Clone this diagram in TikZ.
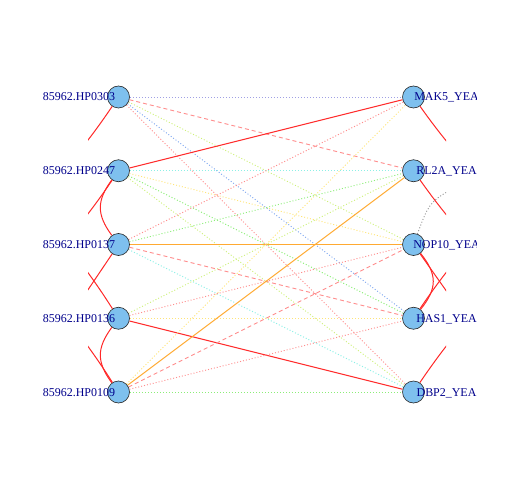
\documentclass[tikz,border=0pt]{standalone}
\usepackage{fontspec}
\setmainfont{Liberation Serif}
\usepackage{tikz}
\usetikzlibrary{positioning}
\definecolor{vfill}{RGB}{126,192,238}
\definecolor{labblue}{RGB}{0,0,139}
\definecolor{lav}{RGB}{160,160,228}
\definecolor{pinkish}{RGB}{255,140,140}
\definecolor{ygreen}{RGB}{205,240,120}
\definecolor{lblue}{RGB}{130,170,240}
\definecolor{lcyan}{RGB}{140,240,230}
\definecolor{lgreen}{RGB}{140,238,120}
\definecolor{lyell}{RGB}{255,228,120}
\definecolor{ered}{RGB}{255,40,40}
\definecolor{eorange}{RGB}{255,170,50}
\definecolor{egrey}{RGB}{150,150,150}

\tikzset{
  dotline/.style={line width=0.9bp,dash pattern=on 1bp off 2bp},
  dashline/.style={line width=0.9bp,dash pattern=on 4bp off 3bp},
  lavdot/.style={dotline,lav},
  pinkdot/.style={dotline,pinkish},
  pinkdash/.style={dashline,pinkish},
  ygdot/.style={dotline,ygreen},
  bluedot/.style={dotline,lblue},
  cyandot/.style={dotline,lcyan},
  greendot/.style={dotline,lgreen},
  yelldot/.style={dotline,lyell},
  greydot/.style={dotline,egrey},
  redsolid/.style={line width=1bp,ered},
  orngsolid/.style={line width=1bp,eorange},
  vtx/.style={circle,draw=black!85,fill=vfill,line width=0.6bp,minimum size=22bp,inner sep=0pt},
  lab/.style={text=labblue,font=\fontsize{12}{14}\selectfont,inner sep=0pt,text height=8bp,text depth=0bp}
}

\begin{document}
\begin{tikzpicture}[x=1bp,y=-1bp]
  \useasboundingbox (0,0) rectangle (504,504);

  % vertices (drawn later on top, placed first for the names)
  \foreach \i/\y in {1/97,2/170.75,3/244.5,4/318.25,5/392} {
    \coordinate (pl\i) at (118.5,\y);
    \coordinate (pr\i) at (413.5,\y);
  }
  \foreach \i in {1,...,5} {
    \node[vtx,draw=none,fill=none] (l\i) at (pl\i) {};
    \node[vtx,draw=none,fill=none] (r\i) at (pr\i) {};
  }

  % straight edges left -> right
  \foreach \s/\t/\sty in {1/1/lavdot,1/2/pinkdash,1/3/ygdot,1/4/bluedot,1/5/pinkdot,
                          2/1/redsolid,2/2/cyandot,2/3/yelldot,2/4/greendot,2/5/ygdot,
                          3/1/pinkdot,3/2/greendot,3/3/orngsolid,3/4/pinkdash,3/5/cyandot,
                          4/2/ygdot,4/3/pinkdot,4/4/yelldot,4/5/redsolid,
                          5/1/yelldot,5/2/orngsolid,5/3/pinkdash,5/4/pinkdot,5/5/greendot}
    \draw[\sty] (l\s) -- (r\t);

  % curved edges, cut off at the plot region
  \begin{scope}
    \clip (88,0) rectangle (446,504);
    \coordinate (cl3) at (-60,420);
    \coordinate (cr3) at (592,420);
    \coordinate (gq) at (470,180);
    \draw[redsolid] (l1) .. controls +(-124,184) and +(-122,-192) .. (l4);
    \draw[redsolid] (l2) .. controls +(-124,184) and +(-122,-192) .. (l5);
    \draw[redsolid] (l3) .. controls +(-124,184) .. (cl3);
    \draw[redsolid] (l2) .. controls +(-22,30) and +(-22,-30) .. (l3);
    \draw[redsolid] (l4) .. controls +(-22,30) and +(-22,-30) .. (l5);
    \draw[redsolid] (r1) .. controls +(130,184) and +(130,-192) .. (r4);
    \draw[redsolid] (r2) .. controls +(130,184) and +(130,-192) .. (r5);
    \draw[redsolid] (r3) .. controls +(130,184) .. (cr3);
    \draw[redsolid] (r3) .. controls +(24,30) and +(24,-30) .. (r4);
    \draw[greydot] (r3) .. controls (430,200) .. (gq);
  \end{scope}

  % vertices
  \foreach \i in {1,...,5} {
    \node[vtx] at (pl\i) {};
    \node[vtx] at (pr\i) {};
  }

  % labels
  \foreach \i/\y/\txt in {1/97/85962.HP0303,2/170.75/85962.HP0247,3/244.5/85962.HP0137,
                          4/318.25/85962.HP0136,5/392/85962.HP0109}
    \node[lab] (ll\i) at (79,\y) {\txt};
  \begin{scope}
    \clip (0,0) rectangle (476,504);
    \foreach \i/\y/\txt in {1/97/MAK5\_YEAST,2/170.75/RL2A\_YEAST,3/244.5/NOP10\_YEAST,
                            4/318.25/HAS1\_YEAST,5/392/DBP2\_YEAST}
      \node[lab] (rl\i) at (453.5,\y) {\txt};
  \end{scope}
\end{tikzpicture}
\end{document}
